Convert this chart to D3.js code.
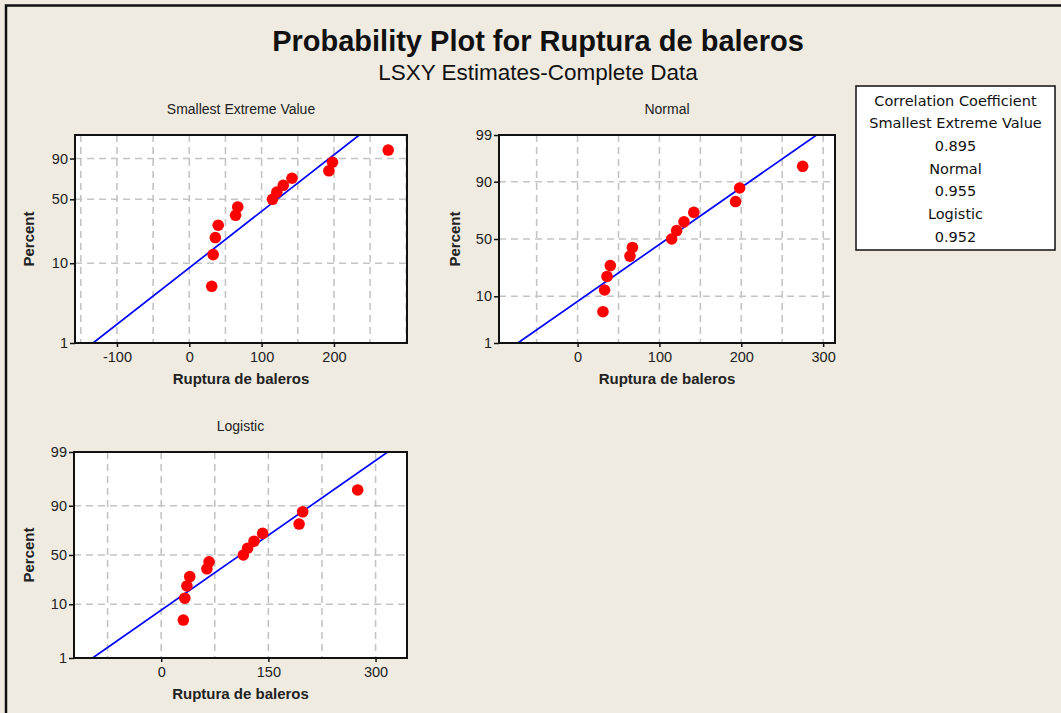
<!DOCTYPE html>
<html>
<head>
<meta charset="utf-8">
<script src="https://cdn.jsdelivr.net/npm/d3@7"></script>
<style>
  body { margin: 0; background: #efebe1; }
  svg { display: block; }
  text { font-family: "Liberation Sans", Arial, sans-serif; }
</style>
</head>
<body>
<div id="chart"></div>
<script>
// data
const ruptura = [31, 33, 36, 40, 64, 67, 115, 121, 130, 142, 193, 198, 275];
const percent = [5.2, 12.7, 20.1, 27.6, 35.1, 42.5, 50, 57.5, 64.9, 72.4, 79.9, 87.3, 94.8];

// fitted lines (x at 1% and 99%)
const fitPct = [1, 99];
const sevFit = [-133, 235];
const normalFit = [-73, 292];
const logisticFit = [-96, 317];

// tick labels
const sevXTicks = [-100, 0, 100, 200];
const normalXTicks = [0, 100, 200, 300];
const logisticXTicks = [0, 150, 300];
const sevPctTicks = [1, 10, 50, 90];
const pctTicks = [1, 10, 50, 90, 99];

const corrNames = ["Smallest Extreme Value", "Normal", "Logistic"];
const corrValues = [0.895, 0.955, 0.952];

const W = 1061, H = 713;

// inverse normal cdf (Acklam)
function qnorm(p) {
  const a = [-39.69683028665376, 220.9460984245205, -275.9285104469687, 138.3577518672690, -30.66479806614716, 2.506628277459239];
  const b = [-54.47609879822406, 161.5858368580409, -155.6989798598866, 66.80131188771972, -13.28068155288572];
  const c = [-0.007784894002430293, -0.3223964580411365, -2.400758277161838, -2.549732539343734, 4.374664141464968, 2.938163982698783];
  const d = [0.007784695709041462, 0.3224671290700398, 2.445134137142996, 3.754408661907416];
  const pl = 0.02425;
  let q, r;
  if (p < pl) {
    q = Math.sqrt(-2 * Math.log(p));
    return (((((c[0]*q+c[1])*q+c[2])*q+c[3])*q+c[4])*q+c[5]) / ((((d[0]*q+d[1])*q+d[2])*q+d[3])*q+1);
  } else if (p <= 1 - pl) {
    q = p - 0.5; r = q * q;
    return (((((a[0]*r+a[1])*r+a[2])*r+a[3])*r+a[4])*r+a[5])*q / (((((b[0]*r+b[1])*r+b[2])*r+b[3])*r+b[4])*r+1);
  } else {
    q = Math.sqrt(-2 * Math.log(1 - p));
    return -(((((c[0]*q+c[1])*q+c[2])*q+c[3])*q+c[4])*q+c[5]) / ((((d[0]*q+d[1])*q+d[2])*q+d[3])*q+1);
  }
}

const svg = d3.select("#chart").append("svg")
  .attr("width", W).attr("height", H);

svg.append("rect")
  .attr("x", 0).attr("y", 0).attr("width", W).attr("height", H)
  .attr("fill", "#efebe1");

// outer frame
svg.append("rect")
  .attr("x", 6).attr("y", 5.5).attr("width", W + 20).attr("height", H + 20)
  .attr("fill", "none").attr("stroke", "#111").attr("stroke-width", 2.5);

// titles
svg.append("text")
  .attr("x", 538).attr("y", 51)
  .attr("text-anchor", "middle")
  .style("font-size", "29px").style("font-weight", "bold").style("fill", "#111")
  .text("Probability Plot for Ruptura de baleros");
svg.append("text")
  .attr("x", 538).attr("y", 80)
  .attr("text-anchor", "middle")
  .style("font-size", "22.5px").style("fill", "#111")
  .text("LSXY Estimates-Complete Data");

function drawPanel(cfg) {
  const g = svg.append("g").attr("transform", `translate(${cfg.left},${cfg.top})`);
  const x = d3.scaleLinear().domain(cfg.xDomain).range([0, cfg.w]);
  const y = d3.scaleLinear().domain([cfg.tf(1), cfg.tf(99)]).range([cfg.h, 0]);
  const yp = p => y(cfg.tf(p));

  g.append("rect").attr("width", cfg.w).attr("height", cfg.h).attr("fill", "#fff");

  const clipId = "clip-" + cfg.name;
  g.append("clipPath").attr("id", clipId)
    .append("rect").attr("width", cfg.w).attr("height", cfg.h);

  // grid
  const gridX = d3.range(Math.ceil(cfg.xDomain[0] / cfg.gridStep) * cfg.gridStep, cfg.xDomain[1], cfg.gridStep);
  g.append("g").selectAll("line").data(gridX).join("line")
    .attr("x1", d => x(d)).attr("x2", d => x(d))
    .attr("y1", 0).attr("y2", cfg.h)
    .attr("stroke", "#c4c4c4").attr("stroke-width", 1.6).attr("stroke-dasharray", "7,5");
  g.append("g").selectAll("line").data([10, 50, 90]).join("line")
    .attr("x1", 0).attr("x2", cfg.w)
    .attr("y1", d => yp(d)).attr("y2", d => yp(d))
    .attr("stroke", "#c4c4c4").attr("stroke-width", 1.6).attr("stroke-dasharray", "7,5");

  // fit line
  g.append("path")
    .datum(fitPct.map((p, i) => ({ x: cfg.fit[i], p: p })))
    .attr("clip-path", `url(#${clipId})`)
    .attr("fill", "none").attr("stroke", "#0000ff").attr("stroke-width", 1.7)
    .attr("d", d3.line().x(d => x(d.x)).y(d => yp(d.p)));

  // points
  g.append("g").selectAll("circle").data(ruptura).join("circle")
    .attr("cx", d => x(d))
    .attr("cy", (d, i) => yp(percent[i]))
    .attr("r", 5.8).attr("fill", "#ff0000");

  // frame
  g.append("rect").attr("width", cfg.w).attr("height", cfg.h)
    .attr("fill", "none").attr("stroke", "#111").attr("stroke-width", 2);

  // axes
  const ax = g.append("g").attr("transform", `translate(0,${cfg.h})`)
    .call(d3.axisBottom(x).tickValues(cfg.xTicks).tickSize(4).tickPadding(5).tickFormat(d => String(d)));
  const ay = g.append("g")
    .call(d3.axisLeft(y).tickValues(cfg.pTicks.map(cfg.tf)).tickSize(5).tickPadding(2)
      .tickFormat((d, i) => cfg.pTicks[i]));
  [ax, ay].forEach(a => {
    a.select(".domain").remove();
    a.selectAll(".tick line").attr("stroke", "#111").attr("stroke-width", 1.5);
    a.selectAll(".tick text").style("font-size", "14.5px").style("fill", "#222")
      .style("font-family", "'Liberation Sans', Arial, sans-serif");
  });

  g.append("text")
    .attr("x", cfg.w / 2).attr("y", -21)
    .attr("text-anchor", "middle")
    .style("font-size", "14px").style("fill", "#222")
    .text(cfg.title);
  g.append("text")
    .attr("x", cfg.w / 2).attr("y", cfg.h + 41)
    .attr("text-anchor", "middle")
    .style("font-size", "15px").style("font-weight", "bold").style("fill", "#222")
    .text("Ruptura de baleros");
  g.append("text")
    .attr("transform", `translate(${cfg.percentX},${cfg.h / 2}) rotate(-90)`)
    .attr("text-anchor", "middle")
    .style("font-size", "15px").style("font-weight", "bold").style("fill", "#222")
    .text("Percent");
}

drawPanel({
  name: "sev", title: "Smallest Extreme Value",
  left: 75, top: 135, w: 332, h: 208,
  xDomain: [-158, 301], gridStep: 50, xTicks: sevXTicks, pTicks: sevPctTicks,
  tf: p => Math.log(-Math.log(1 - p / 100)), fit: sevFit, percentX: -41
});
drawPanel({
  name: "normal", title: "Normal",
  left: 499, top: 135, w: 336, h: 208,
  xDomain: [-96, 314.5], gridStep: 50, xTicks: normalXTicks, pTicks: pctTicks,
  tf: p => qnorm(p / 100), fit: normalFit, percentX: -39
});
drawPanel({
  name: "logistic", title: "Logistic",
  left: 74, top: 452, w: 333, h: 206,
  xDomain: [-122, 344], gridStep: 75, xTicks: logisticXTicks, pTicks: pctTicks,
  tf: p => Math.log(p / (100 - p)), fit: logisticFit, percentX: -40
});

// correlation box
const box = svg.append("g").attr("transform", "translate(856,86)");
box.append("rect").attr("width", 199).attr("height", 164)
  .attr("fill", "#fff").attr("stroke", "#111").attr("stroke-width", 1.5);
const boxLines = ["Correlation Coefficient"];
corrNames.forEach((n, i) => { boxLines.push(n); boxLines.push(corrValues[i].toFixed(3)); });
box.selectAll("text.c").data(boxLines).join("text")
  .attr("class", "c")
  .attr("x", 99.5).attr("y", (d, i) => 19.5 + i * 22.7)
  .attr("text-anchor", "middle")
  .style("font-family", "'DejaVu Sans', Verdana, sans-serif")
  .style("font-size", "14.5px").style("fill", "#111")
  .text(d => d);
</script>
</body>
</html>
